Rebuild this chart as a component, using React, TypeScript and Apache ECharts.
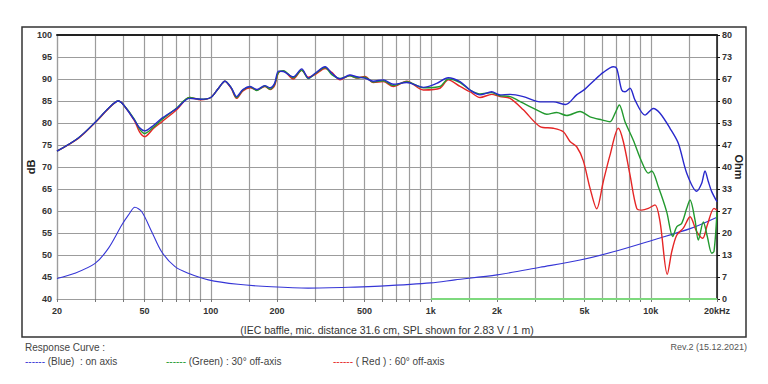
import React, { useEffect, useRef } from "react";
import * as echarts from "echarts";

// Frequency grid (Hz) and bottom tick labels
const gridFreqs = [20, 30, 40, 50, 60, 70, 80, 90, 100, 150, 200, 300, 400, 500, 600, 700, 800, 900, 1000, 1500, 2000, 3000, 4000, 5000, 6000, 7000, 8000, 9000, 10000, 15000, 20000];
const xLabelFreqs = [20, 50, 100, 200, 500, 1000, 2000, 5000, 10000, 20000];
const xLabelTexts = ["20", "50", "100", "200", "500", "1k", "2k", "5k", "10k", "20kHz"];

// Blue: on axis (dB)
const blueF = [20, 25, 30, 34.2, 38, 40, 44.9, 47.5, 50, 55, 60, 70, 80, 90, 100, 108, 116, 124, 131, 140, 151, 162, 176, 186, 195, 203, 214, 237, 259, 278, 298, 331, 355, 387, 429, 461, 502, 548, 608, 676, 777, 925, 1064, 1201, 1358, 1508, 1674, 1892, 2064, 2292, 2634, 3137, 3606, 4100, 4600, 5024, 5480, 6084, 6756, 7002, 7376, 7636, 8046, 8480, 9414, 10270, 11016, 12228, 13340, 14570, 16170, 17040, 17640, 18260, 18920, 20000];
const blueDb = [73.6, 76.6, 80.3, 83.3, 85.0, 84.2, 80.7, 78.9, 78.2, 79.5, 81.1, 83.3, 85.6, 85.4, 85.8, 87.8, 89.5, 88.0, 86.0, 87.6, 88.3, 87.6, 88.5, 88.0, 89.0, 91.8, 91.7, 90.5, 92.3, 90.2, 91.3, 92.8, 91.3, 90.0, 90.9, 90.5, 90.2, 89.5, 89.8, 88.8, 89.2, 88.1, 89.0, 90.3, 89.4, 87.5, 86.4, 87.1, 86.4, 86.5, 86.0, 84.8, 84.8, 84.2, 86.4, 87.7, 89.5, 91.5, 92.8, 92.4, 87.5, 87.1, 87.9, 85.2, 81.8, 83.3, 82.2, 78.8, 75.4, 68.6, 64.5, 66.3, 69.1, 66.7, 64.4, 62.1];

// Green: 30° off-axis (dB)
const greenF = [20, 25, 30, 34.2, 38, 40, 44.9, 47.5, 50, 55, 60, 70, 80, 90, 100, 108, 116, 124, 131, 140, 151, 162, 176, 186, 195, 203, 214, 237, 259, 278, 298, 331, 355, 387, 429, 461, 502, 548, 608, 676, 777, 925, 1101, 1201, 1358, 1508, 1674, 1892, 2064, 2292, 2634, 3137, 3364, 3736, 4148, 4768, 5294, 5984, 6526, 6878, 7194, 7636, 8330, 9094, 9746, 10100, 10822, 11814, 12578, 13116, 13820, 14570, 15082, 15886, 16444, 17330, 18070, 18920, 19380, 20000];
const greenDb = [73.6, 76.6, 80.3, 83.3, 85.0, 84.2, 80.9, 78.6, 77.6, 79.1, 80.8, 83.4, 85.8, 85.4, 85.8, 87.8, 89.5, 88.0, 85.8, 87.5, 88.2, 87.4, 88.4, 87.7, 88.8, 91.5, 91.9, 90.3, 92.0, 90.1, 91.2, 92.6, 91.0, 90.1, 90.7, 90.3, 90.4, 89.3, 89.6, 88.5, 89.4, 88.0, 88.3, 90.0, 89.2, 87.5, 86.6, 86.9, 86.2, 86.0, 84.5, 82.6, 82.0, 82.4, 81.7, 82.6, 81.4, 80.7, 80.3, 82.2, 84.1, 80.3, 76.1, 71.2, 68.6, 69.1, 65.5, 59.8, 54.2, 56.4, 57.2, 60.6, 62.5, 58.0, 53.4, 57.5, 54.2, 50.4, 50.8, 59.8];

// Red: 60° off-axis (dB)
const redF = [20, 25, 30, 34.2, 38, 40, 44.9, 47.5, 50, 55, 60, 70, 80, 90, 100, 108, 116, 124, 131, 140, 151, 162, 176, 186, 195, 203, 214, 237, 259, 278, 298, 331, 355, 387, 429, 461, 502, 548, 608, 676, 777, 925, 1101, 1201, 1358, 1508, 1674, 1892, 2064, 2292, 2634, 3137, 3606, 4004, 4294, 4606, 4936, 5294, 5680, 6084, 6526, 7120, 7502, 8046, 8630, 9094, 9746, 10454, 11016, 11888, 12448, 13116, 14056, 15082, 16170, 17220, 18070, 19380, 20000];
const redDb = [73.6, 76.5, 80.2, 83.2, 85.0, 84.2, 80.6, 77.9, 76.9, 78.8, 80.3, 83.0, 85.8, 85.3, 85.8, 87.8, 89.5, 87.8, 85.6, 87.3, 88.0, 87.5, 88.3, 87.6, 88.5, 91.4, 91.8, 90.0, 92.0, 90.4, 91.0, 92.4, 91.5, 89.8, 90.8, 90.2, 90.6, 89.2, 89.4, 88.3, 89.5, 87.5, 87.9, 89.8, 88.3, 87.1, 85.8, 86.5, 86.0, 85.6, 83.0, 79.2, 78.8, 78.0, 75.8, 74.6, 71.4, 65.2, 60.5, 66.7, 72.7, 78.8, 75.8, 68.2, 60.6, 60.2, 60.6, 61.4, 57.6, 45.6, 50.7, 54.5, 56.1, 58.7, 55.3, 53.8, 56.8, 60.6, 60.2];

// Impedance (Ohm)
const impF = [20, 24.1, 29.8, 34.3, 39.4, 42.2, 45.2, 48.5, 53.9, 59.8, 68.8, 79, 97.5, 133, 189, 277, 453, 588, 1000, 1288, 2000, 3137, 4768, 6756, 10270, 15200, 20000];
const impOhm = [6.2, 7.8, 10.8, 15.4, 22.4, 25.4, 27.8, 26.5, 20.4, 14.3, 9.8, 7.8, 5.8, 4.45, 3.7, 3.3, 3.6, 3.9, 4.9, 5.8, 7.3, 9.6, 11.8, 14.3, 17.9, 21.4, 24.8];

// Green base line (Ohm axis)
const baseF = [1000, 20000];
const baseVal = [0, 0];

const lg = (f: number) => Math.log10(f);
const pairs = (fs: number[], vs: number[]) => fs.map((f, i) => [lg(f), vs[i]]);

export default function App() {
  const ref = useRef<HTMLDivElement>(null);
  useEffect(() => {
    const chart = echarts.init(ref.current!, null, { renderer: "svg" });
    const font = "'Liberation Sans', Arial, sans-serif";
    const xMin = lg(20);
    const xMax = lg(20000);
    const labelFor = (v: number) => {
      const i = xLabelFreqs.findIndex((f) => Math.abs(lg(f) - v) < 1e-6);
      return i >= 0 ? xLabelTexts[i] : "";
    };
    const gridColor = "#9c9c9c";
    const lineSeries = (name: string, data: number[][], color: string, width: number, yIdx: number, z: number) => ({
      name,
      type: "line",
      data,
      xAxisIndex: 0,
      yAxisIndex: yIdx,
      showSymbol: false,
      smooth: 0.3,
      z,
      lineStyle: { color, width },
      itemStyle: { color },
      silent: true,
    });
    chart.setOption({
      animation: false,
      backgroundColor: "#ffffff",
      textStyle: { fontFamily: font },
      grid: { left: 57, right: 51, top: 35, bottom: 85, containLabel: false },
      xAxis: [
        {
          type: "value",
          min: xMin,
          max: xMax,
          position: "bottom",
          axisLine: { show: true, onZero: false, lineStyle: { color: gridColor, width: 1.2 } },
          axisTick: { show: true, length: 3, customValues: gridFreqs.map(lg), lineStyle: { color: "#777" } },
          axisLabel: {
            customValues: xLabelFreqs.map(lg),
            formatter: labelFor,
            fontSize: 9,
            fontWeight: "bold",
            color: "#333",
            fontFamily: font,
            margin: 7,
          },
          splitLine: { show: true, lineStyle: { color: gridColor, width: 1.2 } },
          name: "(IEC baffle, mic. distance 31.6 cm, SPL shown for 2.83 V / 1 m)",
          nameLocation: "middle",
          nameGap: 25,
          nameMoveOverlap: false,
          nameTextStyle: { fontSize: 10.5, color: "#333", fontFamily: font },
        },
        {
          type: "value",
          min: xMin,
          max: xMax,
          position: "top",
          axisLine: { show: true, onZero: false, lineStyle: { color: "#222", width: 2 } },
          axisTick: { show: false },
          axisLabel: { show: false },
          splitLine: { show: false },
        },
      ],
      yAxis: [
        {
          type: "value",
          min: 40,
          max: 100,
          interval: 5,
          position: "left",
          axisLine: { show: true, lineStyle: { color: gridColor, width: 1.2 } },
          axisTick: { show: false },
          axisLabel: { fontSize: 9, fontWeight: "bold", color: "#333", fontFamily: font, margin: 5 },
          splitLine: { show: true, lineStyle: { color: gridColor, width: 1.2 } },
          name: "dB",
          nameLocation: "middle",
          nameGap: 21,
          nameMoveOverlap: false,
          nameTextStyle: { fontSize: 11, fontWeight: "bold", color: "#222", fontFamily: font },
        },
        {
          type: "value",
          min: 0,
          max: 80,
          interval: 80 / 12,
          position: "right",
          axisLine: { show: true, lineStyle: { color: "#111", width: 1.5 } },
          axisTick: { show: true, length: 3, lineStyle: { color: "#111" } },
          axisLabel: {
            formatter: (v: number) => String(Math.round(v)),
            fontSize: 9,
            fontWeight: "bold",
            color: "#333",
            fontFamily: font,
            margin: 5,
          },
          splitLine: { show: false },
          name: "Ohm",
          nameLocation: "middle",
          nameGap: 16,
          nameRotate: -90,
          nameMoveOverlap: false,
          nameTextStyle: { fontSize: 11, fontWeight: "bold", color: "#222", fontFamily: font },
        },
      ],
      series: [
        lineSeries("Base", pairs(baseF, baseVal), "#7ed97e", 2, 1, 2),
        lineSeries("Impedance", pairs(impF, impOhm), "#3636d6", 1.1, 1, 3),
        lineSeries("60° off-axis", pairs(redF, redDb), "#e52626", 1.4, 0, 4),
        lineSeries("30° off-axis", pairs(greenF, greenDb), "#22992e", 1.4, 0, 5),
        lineSeries("On axis", pairs(blueF, blueDb), "#2828cc", 1.4, 0, 6),
      ],
      graphic: [
        {
          type: "rect",
          silent: true,
          shape: { x: 22, y: 27, width: 724, height: 310 },
          style: { fill: "none", stroke: "#333", lineWidth: 1.5 },
        },
        {
          type: "text",
          x: 25,
          y: 347,
          style: { text: "Response Curve :", font: `10px ${font}`, fill: "#444", verticalAlign: "middle" },
        },
        {
          type: "text",
          x: 25,
          y: 361,
          style: {
            text: "{d|------} (Blue)  : on axis",
            font: `10px ${font}`,
            fill: "#444",
            verticalAlign: "middle",
            rich: { d: { fill: "#3636d6", font: `10px ${font}` } },
          },
        },
        {
          type: "text",
          x: 166,
          y: 361,
          style: {
            text: "{d|------} (Green) : 30° off-axis",
            font: `10px ${font}`,
            fill: "#444",
            verticalAlign: "middle",
            rich: { d: { fill: "#22992e", font: `10px ${font}` } },
          },
        },
        {
          type: "text",
          x: 333,
          y: 361,
          style: {
            text: "{d|------} ( Red ) : 60° off-axis",
            font: `10px ${font}`,
            fill: "#444",
            verticalAlign: "middle",
            rich: { d: { fill: "#e52626", font: `10px ${font}` } },
          },
        },
        {
          type: "text",
          x: 747,
          y: 347,
          style: { text: "Rev.2 (15.12.2021)", font: `9px ${font}`, fill: "#555", align: "right", verticalAlign: "middle" },
        },
      ],
    });
    return () => chart.dispose();
  }, []);
  return <div ref={ref} style={{ position: "fixed", left: 0, top: 0, width: 768, height: 384 }} />;
}
